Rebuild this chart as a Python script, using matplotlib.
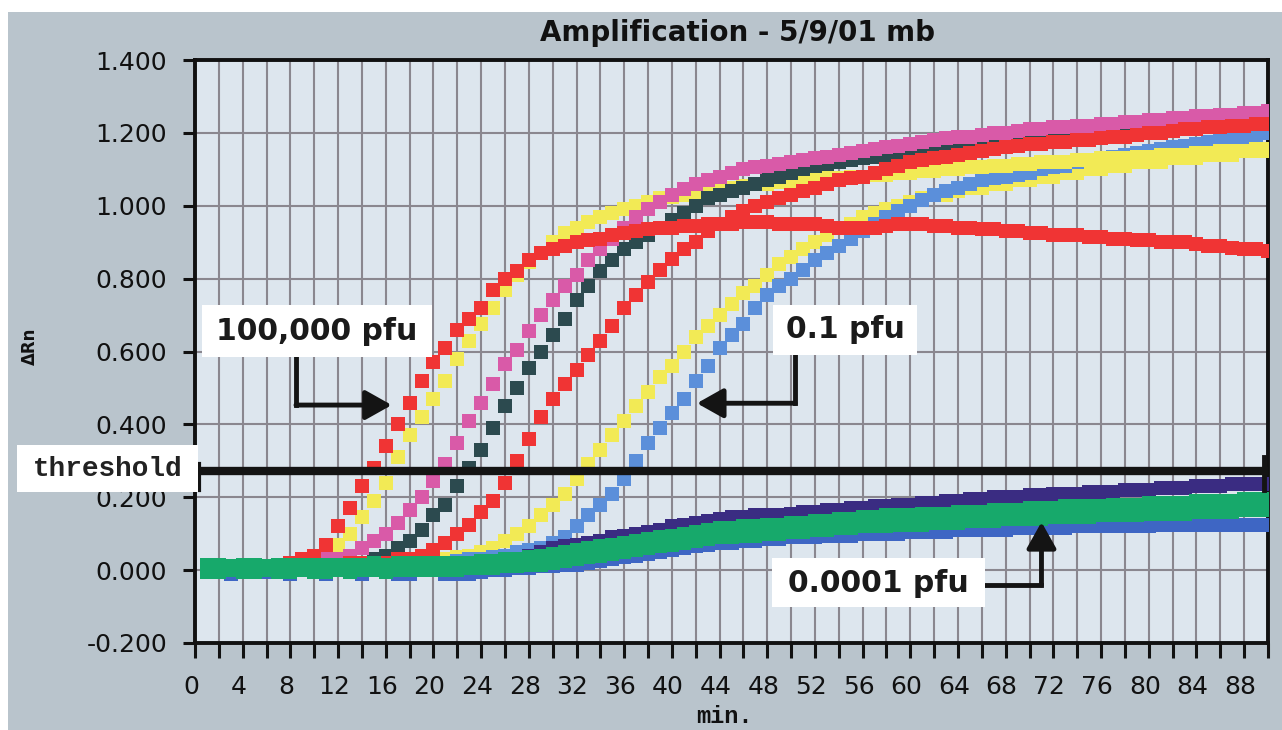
import matplotlib
matplotlib.use("Agg")
import matplotlib.pyplot as plt
from matplotlib.patches import Rectangle
from matplotlib.transforms import ScaledTranslation

# ---------------- data ----------------
minutes = list(range(1, 91))

red_fast = [0.01, 0.01, 0.01, 0.01, 0.01, 0.01, 0.01, 0.02, 0.03, 0.04,
            0.07, 0.12, 0.17, 0.23, 0.28, 0.34, 0.40, 0.46, 0.52, 0.57,
            0.61, 0.66, 0.69, 0.72, 0.77, 0.80, 0.82, 0.85, 0.87, 0.88,
            0.89, 0.90, 0.905, 0.91, 0.92, 0.925, 0.93, 0.935, 0.94, 0.94,
            0.945, 0.945, 0.95, 0.95, 0.95, 0.955, 0.955, 0.955, 0.95, 0.95,
            0.95, 0.95, 0.945, 0.94, 0.94, 0.94, 0.94, 0.945, 0.95, 0.95,
            0.95, 0.945, 0.945, 0.94, 0.94, 0.935, 0.935, 0.93, 0.93, 0.925,
            0.925, 0.92, 0.92, 0.92, 0.915, 0.915, 0.91, 0.91, 0.905, 0.905,
            0.90, 0.90, 0.90, 0.895, 0.89, 0.89, 0.885, 0.88, 0.88, 0.875]

yellow_fast = [0.01, 0.00, 0.01, 0.01, 0.01, 0.01, 0.01, 0.01, 0.02, 0.03,
               0.04, 0.07, 0.10, 0.145, 0.19, 0.24, 0.31, 0.37, 0.42, 0.47,
               0.52, 0.58, 0.63, 0.675, 0.72, 0.77, 0.81, 0.845, 0.87, 0.90,
               0.925, 0.94, 0.955, 0.97, 0.98, 0.99, 1.00, 1.01, 1.02, 1.025,
               1.03, 1.035, 1.04, 1.045, 1.05, 1.055, 1.06, 1.06, 1.065, 1.065,
               1.07, 1.07, 1.075, 1.075, 1.08, 1.08, 1.085, 1.085, 1.09, 1.09,
               1.095, 1.095, 1.10, 1.10, 1.105, 1.105, 1.11, 1.11, 1.115, 1.115,
               1.12, 1.12, 1.12, 1.125, 1.125, 1.13, 1.13, 1.13, 1.135, 1.135,
               1.14, 1.14, 1.14, 1.145, 1.145, 1.15, 1.15, 1.15, 1.155, 1.155]

pink = [0.01, 0.01, 0.01, 0.01, 0.01, 0.01, 0.01, 0.01, 0.02, 0.02,
        0.03, 0.03, 0.04, 0.06, 0.08, 0.10, 0.13, 0.165, 0.20, 0.245,
        0.29, 0.35, 0.41, 0.46, 0.51, 0.565, 0.605, 0.655, 0.70, 0.74,
        0.78, 0.81, 0.85, 0.88, 0.91, 0.94, 0.97, 0.99, 1.01, 1.03,
        1.045, 1.06, 1.07, 1.08, 1.09, 1.10, 1.105, 1.11, 1.115, 1.12,
        1.125, 1.13, 1.135, 1.14, 1.145, 1.15, 1.155, 1.16, 1.165, 1.17,
        1.175, 1.18, 1.185, 1.19, 1.19, 1.195, 1.20, 1.20, 1.205, 1.21,
        1.21, 1.215, 1.215, 1.22, 1.22, 1.225, 1.225, 1.23, 1.23, 1.235,
        1.235, 1.24, 1.24, 1.245, 1.245, 1.25, 1.25, 1.255, 1.255, 1.26]

teal = [0.01, 0.01, 0.01, 0.01, 0.01, 0.01, 0.01, 0.01, 0.01, 0.01,
        0.02, 0.02, 0.02, 0.02, 0.03, 0.04, 0.06, 0.08, 0.11, 0.15,
        0.18, 0.23, 0.28, 0.33, 0.39, 0.45, 0.50, 0.555, 0.60, 0.645,
        0.69, 0.74, 0.78, 0.82, 0.85, 0.88, 0.90, 0.92, 0.94, 0.96,
        0.98, 1.00, 1.02, 1.03, 1.04, 1.05, 1.06, 1.07, 1.08, 1.09,
        1.10, 1.11, 1.115, 1.12, 1.125, 1.13, 1.135, 1.14, 1.14, 1.145,
        1.15, 1.155, 1.16, 1.165, 1.17, 1.17, 1.175, 1.18, 1.18, 1.185,
        1.19, 1.19, 1.195, 1.195, 1.20, 1.20, 1.205, 1.205, 1.21, 1.21,
        1.215, 1.215, 1.22, 1.22, 1.22, 1.225, 1.225, 1.23, 1.23, 1.23]

red_mid = [0.01, 0.01, 0.01, 0.01, 0.01, 0.01, 0.01, 0.01, 0.01, 0.01,
           0.01, 0.01, 0.02, 0.02, 0.02, 0.02, 0.03, 0.03, 0.04, 0.055,
           0.075, 0.10, 0.125, 0.16, 0.19, 0.24, 0.30, 0.36, 0.42, 0.47,
           0.51, 0.55, 0.59, 0.63, 0.67, 0.72, 0.755, 0.79, 0.825, 0.855,
           0.88, 0.90, 0.93, 0.95, 0.97, 0.985, 1.00, 1.01, 1.02, 1.03,
           1.04, 1.05, 1.06, 1.07, 1.075, 1.08, 1.09, 1.10, 1.11, 1.12,
           1.125, 1.13, 1.135, 1.14, 1.145, 1.15, 1.155, 1.16, 1.165, 1.17,
           1.17, 1.175, 1.175, 1.18, 1.18, 1.185, 1.19, 1.19, 1.195, 1.20,
           1.20, 1.205, 1.21, 1.21, 1.215, 1.215, 1.22, 1.22, 1.225, 1.225]

yellow_slow = [0.00, 0.01, 0.01, 0.00, 0.01, 0.01, 0.01, 0.01, 0.01, 0.01,
               0.01, 0.01, 0.01, 0.01, 0.01, 0.02, 0.02, 0.02, 0.02, 0.03,
               0.03, 0.035, 0.04, 0.05, 0.06, 0.08, 0.10, 0.12, 0.15, 0.18,
               0.21, 0.25, 0.29, 0.33, 0.37, 0.41, 0.45, 0.49, 0.53, 0.56,
               0.60, 0.64, 0.67, 0.70, 0.73, 0.76, 0.78, 0.81, 0.84, 0.86,
               0.88, 0.90, 0.92, 0.94, 0.95, 0.97, 0.98, 0.99, 1.00, 1.01,
               1.02, 1.03, 1.03, 1.04, 1.05, 1.05, 1.06, 1.06, 1.07, 1.07,
               1.08, 1.08, 1.09, 1.09, 1.10, 1.10, 1.11, 1.11, 1.12, 1.12,
               1.12, 1.13, 1.13, 1.13, 1.14, 1.14, 1.14, 1.15, 1.15, 1.15]

blue_slow = [0.00, 0.01, 0.01, 0.01, 0.00, 0.01, 0.01, 0.01, 0.01, 0.01,
             0.01, 0.01, 0.01, 0.01, 0.01, 0.01, 0.02, 0.02, 0.02, 0.02,
             0.02, 0.025, 0.03, 0.03, 0.035, 0.04, 0.05, 0.055, 0.06, 0.075,
             0.09, 0.12, 0.15, 0.18, 0.21, 0.25, 0.30, 0.35, 0.39, 0.43,
             0.47, 0.52, 0.56, 0.61, 0.645, 0.675, 0.72, 0.755, 0.78, 0.80,
             0.825, 0.85, 0.87, 0.89, 0.91, 0.93, 0.95, 0.97, 0.985, 1.00,
             1.015, 1.03, 1.04, 1.05, 1.06, 1.07, 1.075, 1.08, 1.085, 1.09,
             1.10, 1.105, 1.11, 1.12, 1.125, 1.13, 1.135, 1.14, 1.145, 1.15,
             1.155, 1.16, 1.165, 1.17, 1.175, 1.18, 1.185, 1.19, 1.195, 1.20]

purple_low = [0.01, 0.01, 0.00, 0.01, 0.01, 0.00, 0.01, 0.01, 0.01, 0.01,
              0.01, 0.01, 0.01, 0.01, 0.01, 0.01, 0.01, 0.01, 0.01, 0.015,
              0.015, 0.02, 0.02, 0.02, 0.025, 0.025, 0.03, 0.04, 0.05, 0.06,
              0.065, 0.07, 0.075, 0.08, 0.09, 0.095, 0.10, 0.105, 0.11, 0.12,
              0.125, 0.13, 0.135, 0.14, 0.145, 0.145, 0.15, 0.15, 0.15, 0.155,
              0.16, 0.16, 0.165, 0.165, 0.17, 0.17, 0.175, 0.175, 0.18, 0.18,
              0.185, 0.185, 0.19, 0.19, 0.195, 0.195, 0.20, 0.20, 0.20, 0.205,
              0.205, 0.21, 0.21, 0.21, 0.215, 0.215, 0.215, 0.22, 0.22, 0.22,
              0.225, 0.225, 0.225, 0.23, 0.23, 0.23, 0.235, 0.235, 0.235, 0.235]

green_low_a = [0.015, 0.015, 0.01, 0.015, 0.015, 0.01, 0.015, 0.015, 0.015, 0.015,
               0.015, 0.015, 0.015, 0.015, 0.02, 0.015, 0.02, 0.02, 0.02, 0.02,
               0.02, 0.02, 0.02, 0.025, 0.025, 0.03, 0.03, 0.035, 0.04, 0.045,
               0.05, 0.055, 0.06, 0.065, 0.07, 0.075, 0.08, 0.085, 0.09, 0.095,
               0.10, 0.105, 0.11, 0.115, 0.115, 0.12, 0.12, 0.125, 0.125, 0.13,
               0.13, 0.135, 0.135, 0.14, 0.14, 0.145, 0.145, 0.15, 0.15, 0.15,
               0.155, 0.155, 0.155, 0.16, 0.16, 0.16, 0.165, 0.165, 0.165, 0.17,
               0.17, 0.17, 0.175, 0.175, 0.175, 0.175, 0.18, 0.18, 0.18, 0.185,
               0.185, 0.185, 0.185, 0.19, 0.19, 0.19, 0.19, 0.195, 0.195, 0.195]

green_low_b = [-0.005, -0.005, 0.0, -0.005, -0.005, 0.0, -0.005, -0.005, 0.0, -0.005,
               -0.005, 0.0, -0.005, 0.0, 0.0, -0.005, 0.0, 0.0, 0.0, 0.0,
               0.0, 0.0, 0.005, 0.005, 0.005, 0.01, 0.01, 0.015, 0.015, 0.02,
               0.025, 0.03, 0.035, 0.04, 0.045, 0.05, 0.055, 0.06, 0.065, 0.07,
               0.075, 0.08, 0.085, 0.09, 0.09, 0.095, 0.095, 0.10, 0.10, 0.105,
               0.105, 0.11, 0.11, 0.115, 0.115, 0.12, 0.12, 0.12, 0.125, 0.125,
               0.125, 0.13, 0.13, 0.13, 0.135, 0.135, 0.135, 0.14, 0.14, 0.14,
               0.14, 0.145, 0.145, 0.145, 0.145, 0.15, 0.15, 0.15, 0.15, 0.155,
               0.155, 0.155, 0.155, 0.16, 0.16, 0.16, 0.16, 0.165, 0.165, 0.165]

blue_low = [0.005, 0.0, -0.01, 0.0, 0.0, -0.005, 0.0, -0.01, 0.0, 0.0,
            -0.01, 0.0, 0.0, -0.01, 0.0, 0.0, -0.01, -0.01, 0.0, 0.0,
            -0.01, -0.01, -0.01, -0.005, 0.0, 0.0, 0.005, 0.005, 0.01, 0.01,
            0.015, 0.015, 0.02, 0.025, 0.03, 0.035, 0.04, 0.045, 0.05, 0.055,
            0.06, 0.065, 0.07, 0.075, 0.075, 0.08, 0.08, 0.085, 0.085, 0.09,
            0.09, 0.09, 0.095, 0.095, 0.095, 0.10, 0.10, 0.10, 0.10, 0.105,
            0.105, 0.105, 0.105, 0.11, 0.11, 0.11, 0.11, 0.11, 0.115, 0.115,
            0.115, 0.115, 0.115, 0.12, 0.12, 0.12, 0.12, 0.12, 0.12, 0.12,
            0.125, 0.125, 0.125, 0.125, 0.125, 0.125, 0.125, 0.125, 0.125, 0.125]

threshold_value = 0.272

x_ticks = list(range(0, 91, 2))
x_tick_labels = [str(t) if (t % 4 == 0 and t <= 88) else "" for t in x_ticks]
y_ticks = [-0.2, 0.0, 0.2, 0.4, 0.6, 0.8, 1.0, 1.2, 1.4]
y_tick_labels = ["-0.200", "0.000", "0.200", "0.400", "0.600", "0.800",
                 "1.000", "1.200", "1.400"]

title_text = "Amplification - 5/9/01 mb"
x_label_text = "min."
y_label_text = "\u0394Rn"

# ---------------- figure ----------------
W, H = 1282, 730
fig = plt.figure(figsize=(W / 100, H / 100), dpi=100, facecolor="#b9c4cc")


def fx(px):
    return px / W


def fy(py):
    return 1 - py / H


ax = fig.add_axes([fx(195), fy(643), fx(1268) - fx(195), fy(60) - fy(643)])
ax.set_facecolor("#dde6ee")
ax.set_xlim(0, 90)
ax.set_ylim(-0.2, 1.4)

ax.set_xticks(x_ticks)
ax.set_xticklabels(x_tick_labels)
ax.set_yticks(y_ticks)
ax.set_yticklabels(y_tick_labels)
ax.tick_params(axis="x", direction="out", length=11, width=2.2, pad=12,
               labelsize=18, colors="#111111")
ax.tick_params(axis="y", direction="out", length=9, width=2.2, pad=11,
               labelsize=18, colors="#111111")
shift = ScaledTranslation(-4 / 100, 0, fig.dpi_scale_trans)
for lab in ax.get_xticklabels():
    lab.set_transform(lab.get_transform() + shift)
ax.grid(True, color="#8a878f", lw=1.5)
ax.set_axisbelow(True)
for s in ax.spines.values():
    s.set_linewidth(2.8)
    s.set_color("#111111")

marker_kw = dict(ls="none", marker="s", ms=10.5, mew=0)

series = [
    (yellow_slow, "#f2ea55"),
    (blue_slow, "#5b8fda"),
    (yellow_fast, "#f2ea55"),
    (teal, "#2c4a4f"),
    (pink, "#d95aa8"),
    (red_mid, "#f03434"),
    (red_fast, "#f03434"),
    (purple_low, "#3a2c82"),
    (blue_low, "#3e66c4"),
    (green_low_b, "#17a96b"),
    (green_low_a, "#17a96b"),
]
for i, (vals, col) in enumerate(series):
    ax.plot(minutes, vals, color=col, zorder=3 + i * 0.01, clip_on=True, **marker_kw)

# threshold line
ax.axhline(threshold_value, color="#141414", lw=6, zorder=5)
ax.plot([0.35, 0.35], [0.22, 0.29], color="#141414", lw=3, zorder=5, clip_on=False)
ax.plot([89.7, 89.7], [0.22, 0.31], color="#141414", lw=3.5, zorder=5, clip_on=False)

# arrows (annotation geometry)
arrow_kw = dict(arrowstyle="-|>,head_length=0.8,head_width=0.45",
                lw=3.5, color="#141414", mutation_scale=20, shrinkA=0, shrinkB=0)
# 100,000 pfu
ax.plot([8.47, 8.47], [0.59, 0.453], color="#141414", lw=3.5, zorder=6,
        solid_capstyle="projecting")
ax.annotate("", xy=(16.5, 0.453), xytext=(8.47, 0.453), arrowprops=arrow_kw, zorder=6)
# 0.1 pfu
ax.plot([50.34, 50.34], [0.59, 0.458], color="#141414", lw=3.5, zorder=6,
        solid_capstyle="projecting")
ax.annotate("", xy=(42.1, 0.458), xytext=(50.34, 0.458), arrowprops=arrow_kw, zorder=6)
# 0.0001 pfu
ax.plot([66.3, 71.0], [-0.041, -0.041], color="#141414", lw=3.5, zorder=6,
        solid_capstyle="projecting")
ax.annotate("", xy=(71.0, 0.132), xytext=(71.0, -0.041), arrowprops=arrow_kw, zorder=6)

# white strips of the scan
fig.patches.append(Rectangle((0, fy(12)), 1, 12 / H, transform=fig.transFigure,
                             facecolor="white", edgecolor="none", zorder=0.5))
fig.patches.append(Rectangle((0, 0), 8 / W, 1, transform=fig.transFigure,
                             facecolor="white", edgecolor="none", zorder=0.5))


def white_box(x0, y0, x1, y1):
    fig.patches.append(Rectangle((fx(x0), fy(y1)), fx(x1) - fx(x0), fy(y0) - fy(y1),
                                 transform=fig.transFigure, facecolor="white",
                                 edgecolor="none", zorder=10))


white_box(17, 445, 198, 492)
fig.text(fx(108), fy(469), "threshold", family="Liberation Mono", weight="bold",
         fontsize=20, ha="center", va="center", color="#222222", zorder=11)

white_box(202, 305, 432, 357)
fig.text(fx(317), fy(331), "100,000 pfu", family="DejaVu Sans", weight="bold",
         fontsize=21.5, ha="center", va="center", color="#1a1a1a", zorder=11)

white_box(773, 305, 917, 355)
fig.text(fx(845), fy(330), "0.1 pfu", family="DejaVu Sans", weight="bold",
         fontsize=21.5, ha="center", va="center", color="#1a1a1a", zorder=11)

white_box(772, 558, 985, 607)
fig.text(fx(878), fy(583), "0.0001 pfu", family="DejaVu Sans", weight="bold",
         fontsize=21.5, ha="center", va="center", color="#1a1a1a", zorder=11)

# titles
fig.text(fx(737), fy(33), title_text, ha="center", va="center", fontsize=20,
         weight="bold", color="#111111")
fig.text(fx(30), fy(346), y_label_text, rotation=90, ha="center", va="center",
         fontsize=12, weight="bold", color="#111111")
fig.text(fx(724), fy(728), x_label_text, family="Liberation Mono", weight="bold",
         fontsize=17, ha="center", va="bottom", color="#111111")

fig.savefig("out.png", dpi=100, facecolor=fig.get_facecolor())
